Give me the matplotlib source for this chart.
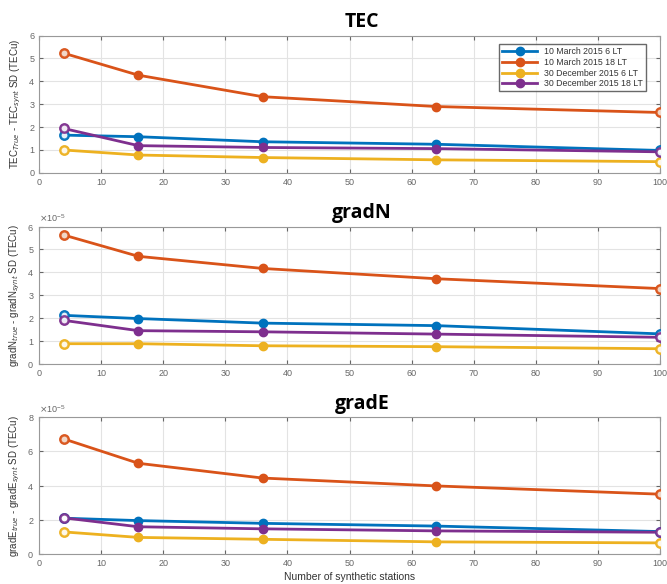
import matplotlib
matplotlib.use("Agg")
import matplotlib.pyplot as plt
import matplotlib.ticker as mticker
import numpy as np

plt.rcParams['font.family'] = ['Liberation Sans', 'DejaVu Sans']

stations = [4, 16, 36, 64, 100]
labels = ['10 March 2015 6 LT', '10 March 2015 18 LT',
          '30 December 2015 6 LT', '30 December 2015 18 LT']
colors = ['#0072BD', '#D95319', '#EDB120', '#7E2F8E']

# TEC (TECu)
tec_mar06 = [1.65, 1.58, 1.36, 1.25, 0.98]
tec_mar18 = [5.23, 4.27, 3.33, 2.90, 2.64]
tec_dec06 = [1.00, 0.78, 0.67, 0.57, 0.49]
tec_dec18 = [1.94, 1.19, 1.11, 1.06, 0.92]

# gradN (x1e-5)
gn_mar06 = [2.12, 1.98, 1.78, 1.67, 1.31]
gn_mar18 = [5.63, 4.70, 4.17, 3.72, 3.29]
gn_dec06 = [0.88, 0.88, 0.79, 0.75, 0.66]
gn_dec18 = [1.90, 1.45, 1.40, 1.30, 1.16]

# gradE (x1e-5)
ge_mar06 = [2.10, 1.96, 1.80, 1.64, 1.32]
ge_mar18 = [6.72, 5.30, 4.44, 3.98, 3.50]
ge_dec06 = [1.30, 0.98, 0.87, 0.72, 0.66]
ge_dec18 = [2.12, 1.60, 1.48, 1.36, 1.28]

panels = [
    ('TEC', [tec_mar06, tec_mar18, tec_dec06, tec_dec18], 1.0, 6,
     [0, 1, 2, 3, 4, 5, 6], r'TEC$_{True}$ - TEC$_{synt}$ SD (TECu)'),
    ('gradN', [gn_mar06, gn_mar18, gn_dec06, gn_dec18], 1e-5, 6,
     [0, 1, 2, 3, 4, 5, 6], r'gradN$_{true}$ - gradN$_{synt}$ SD (TECu)'),
    ('gradE', [ge_mar06, ge_mar18, ge_dec06, ge_dec18], 1e-5, 8,
     [0, 2, 4, 6, 8], r'gradE$_{true}$ - gradE$_{synt}$ SD (TECu)'),
]

fig = plt.figure(figsize=(6.67, 5.84), dpi=100)
bottoms = [0.704, 0.377, 0.051]
tick_col = '#666666'

for (name, series, scale, ymax, yticks, ylab), b in zip(panels, bottoms):
    ax = fig.add_axes([0.0585, b, 0.931, 0.235])
    for vals, col, lab in zip(series, colors, labels):
        y = np.array(vals) * scale
        ax.plot(stations, y, '-o', color=col, lw=2.0, ms=6, label=lab, zorder=3)
        # open-looking markers at the ends
        ax.plot([stations[0], stations[-1]], [y[0], y[-1]], 'o', ms=6,
                mfc='#f4e6dc' if col == '#D95319' else 'white',
                mec=col, mew=1.8, zorder=4, alpha=0.9)
    ax.set_xlim(0, 100)
    ax.set_ylim(0, ymax * scale)
    ax.set_xticks(range(0, 101, 10))
    ax.set_yticks(np.array(yticks) * scale)
    ax.grid(True, color='#e3e3e3', lw=0.8)
    ax.set_axisbelow(True)
    ax.tick_params(direction='in', length=3, labelsize=6.5, colors=tick_col,
                   top=True, right=True)
    for sp in ax.spines.values():
        sp.set_color('#999999')
        sp.set_linewidth(0.8)
    if scale != 1.0:
        fmt = mticker.ScalarFormatter(useMathText=True)
        fmt.set_powerlimits((0, 0))
        ax.yaxis.set_major_formatter(fmt)
        ax.yaxis.get_offset_text().set_fontsize(6.5)
        ax.yaxis.get_offset_text().set_color(tick_col)
    ax.set_ylabel(ylab, fontsize=7, color='#333333', labelpad=4)
    ax.set_title(name, fontsize=14, fontweight='bold', family='Open Sans',
                 x=0.52, pad=6)
    if name == 'TEC':
        leg = ax.legend(loc='upper right', fontsize=6.3, frameon=True,
                        fancybox=False, edgecolor='#444444', borderpad=0.35,
                        labelspacing=0.2, handlelength=4, bbox_to_anchor=(0.985, 0.97))
        for t in leg.get_texts():
            t.set_color('#333333')
    if name == 'gradE':
        ax.set_xlabel('Number of synthetic stations', fontsize=7.5,
                      color='#333333', labelpad=3)

fig.savefig('out.png', dpi=100)
